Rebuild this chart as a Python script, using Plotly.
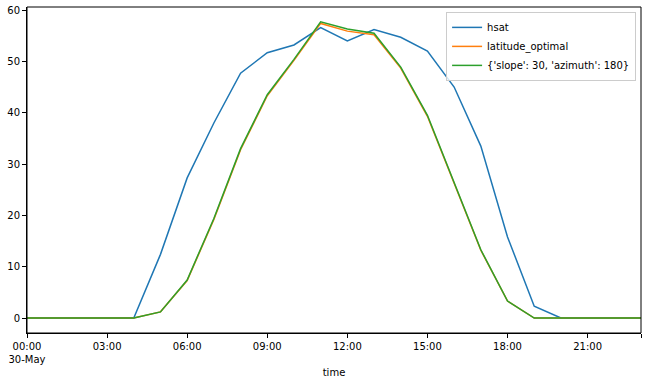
import plotly.graph_objects as go
import pandas as pd

times = pd.date_range("2020-05-30 00:00", periods=24, freq="h")
hsat = [0, 0, 0, 0, 0, 12.4, 27.3, 38.0, 47.7, 51.7, 53.2, 56.6, 54.0, 56.2,
        54.7, 52.0, 45.0, 33.5, 15.8, 2.3, 0, 0, 0, 0]
latitude_optimal = [0, 0, 0, 0, 0, 1.2, 7.3, 19.2, 32.8, 43.3, 50.2, 57.4, 55.9, 55.2,
                    48.7, 39.3, 26.2, 13.2, 3.3, 0, 0, 0, 0, 0]
slope30 = [0, 0, 0, 0, 0, 1.2, 7.4, 19.4, 33.0, 43.5, 50.4, 57.7, 56.3, 55.5,
           48.9, 39.5, 26.3, 13.3, 3.3, 0, 0, 0, 0, 0]
series_names = ["hsat", "latitude_optimal", "{'slope': 30, 'azimuth': 180}"]
colors = ["#1f77b4", "#ff7f0e", "#2ca02c"]
tick_times = pd.date_range("2020-05-30 00:00", periods=8, freq="3h").tolist() + [pd.Timestamp("2020-05-30 23:00")]
tick_labels = ["00:00<br>30-May", "03:00", "06:00", "09:00", "12:00", "15:00", "18:00", "21:00", ""]
y_ticks = [0, 10, 20, 30, 40, 50, 60]

fig = go.Figure()
for name, vals, c in zip(series_names, [hsat, latitude_optimal, slope30], colors):
    fig.add_trace(go.Scatter(x=times, y=vals, mode="lines", name=name,
                             line=dict(color=c, width=1.5)))

axis_common = dict(showline=True, linecolor="black", linewidth=1,
                   ticks="outside", ticklen=4, tickcolor="black", showgrid=False,
                   zeroline=False, automargin=False,
                   tickfont=dict(family="DejaVu Sans", size=10, color="black"))
fig.update_xaxes(range=[times[0], times[-1]], tickmode="array",
                 tickvals=tick_times, ticktext=tick_labels,
                 title=dict(text="time", font=dict(family="DejaVu Sans", size=10, color="black"), standoff=4),
                 **axis_common)
fig.update_yaxes(range=[-2.92, 60.6], tickmode="array", tickvals=y_ticks, **axis_common)
fig.add_shape(type="rect", xref="x domain", yref="y domain", x0=0, y0=0, x1=1, y1=1,
              line=dict(color="black", width=1), fillcolor="rgba(0,0,0,0)", layer="above")
fig.update_layout(
    width=647, height=383,
    margin=dict(l=27, r=6, t=7, b=50),
    plot_bgcolor="white", paper_bgcolor="white",
    font=dict(family="DejaVu Sans", size=10, color="black"),
    legend=dict(x=0.992, y=0.985, xanchor="right", yanchor="top",
                bordercolor="#cccccc", borderwidth=1, bgcolor="rgba(255,255,255,0.8)",
                font=dict(family="DejaVu Sans", size=10, color="black"),
                tracegroupgap=0, itemwidth=30),
)
fig.write_html("out.html", config={"displayModeBar": False},
               post_script="document.body.style.margin='0';document.body.style.overflow='hidden';")
